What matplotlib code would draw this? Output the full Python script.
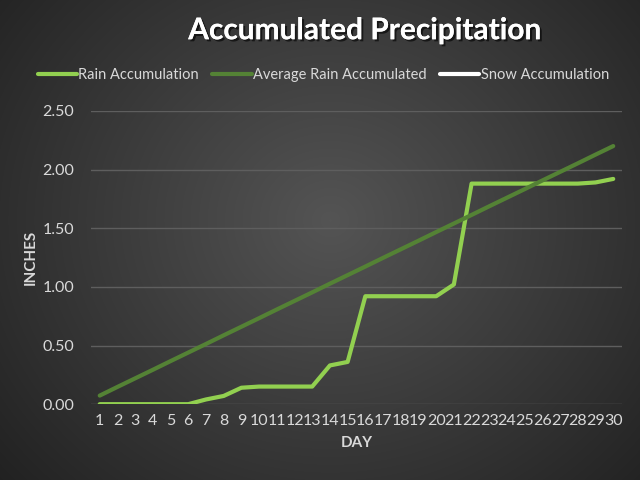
import numpy as np
import matplotlib
matplotlib.use("Agg")
import matplotlib.pyplot as plt
import matplotlib.patheffects as pe

days = [str(d) for d in range(1, 31)]
rain = [0, 0, 0, 0, 0, 0, 0.04, 0.07, 0.14, 0.15, 0.15, 0.15, 0.15, 0.33, 0.36,
        0.92, 0.92, 0.92, 0.92, 0.92, 1.02, 1.88, 1.88, 1.88, 1.88, 1.88, 1.88, 1.88, 1.89, 1.92]
avg_rain = [0.073, 0.147, 0.220, 0.293, 0.367, 0.440, 0.513, 0.587, 0.660, 0.733,
            0.807, 0.880, 0.953, 1.027, 1.100, 1.173, 1.247, 1.320, 1.393, 1.467,
            1.540, 1.613, 1.687, 1.760, 1.833, 1.907, 1.980, 2.053, 2.127, 2.200]
snow = [np.nan] * 30
yticks = [0.0, 0.5, 1.0, 1.5, 2.0, 2.5]

plt.rcParams['font.family'] = ['Lato', 'DejaVu Sans']
fig = plt.figure(figsize=(6.4, 4.8), dpi=100)

# radial gradient background
bg = fig.add_axes([0, 0, 1, 1], zorder=0)
yy, xx = np.mgrid[0:480, 0:640]
r = np.sqrt(((xx - 330) / 420.0) ** 2 + ((yy - 220) / 380.0) ** 2)
v = np.clip(0.33 - 0.19 * r, 0.13, 0.35)
bg.imshow(np.dstack([v, v, v]), extent=[0, 1, 0, 1], aspect='auto', origin='upper')
bg.set_axis_off()

ax = fig.add_axes([0.142, 0.158, 0.830, 0.611], zorder=1)
ax.patch.set_alpha(0)
x = np.arange(1, 31)
ax.plot(x, rain, color='#92d050', lw=3, solid_capstyle='round', label='Rain Accumulation', zorder=3)
ax.plot(x, avg_rain, color='#548235', lw=3, solid_capstyle='round', label='Average Rain Accumulated', zorder=4)
ax.plot(x, snow, color='white', lw=3, solid_capstyle='round', label='Snow Accumulation', zorder=2)

ax.set_xlim(0.5, 30.5)
ax.set_ylim(0, 2.5)
ax.set_xticks(x)
ax.set_xticklabels(days)
ax.set_yticks(yticks)
ax.set_yticklabels([f"{t:.2f}" for t in yticks])
ax.grid(axis='y', color='#5e5e5e', lw=1)
ax.set_axisbelow(True)
for s in ax.spines.values():
    s.set_visible(False)
ax.tick_params(length=0, colors='#d9d9d9', labelsize=11.5)
ax.tick_params(axis='x', pad=7)
ax.tick_params(axis='y', pad=12)

ax.set_xlabel('DAY', color='#d9d9d9', fontsize=11, fontweight='bold', labelpad=6)
ax.set_ylabel('INCHES', color='#d9d9d9', fontsize=11, fontweight='bold', labelpad=3)

fig.text(0.57, 0.937, 'Accumulated Precipitation', ha='center', va='center', color='white',
         fontsize=21.5, fontweight='bold',
         path_effects=[pe.withSimplePatchShadow(offset=(1.5, -1.5), shadow_rgbFace='black', alpha=0.6), pe.Normal()])

h, l = ax.get_legend_handles_labels()
leg = fig.legend(h, l, loc='center', bbox_to_anchor=(0.505, 0.843),
                 ncol=3, frameon=False, fontsize=10.5, labelcolor='#d9d9d9', handlelength=2.7,
                 handletextpad=0.1, columnspacing=0.9)

fig.savefig('out.png', dpi=100)
